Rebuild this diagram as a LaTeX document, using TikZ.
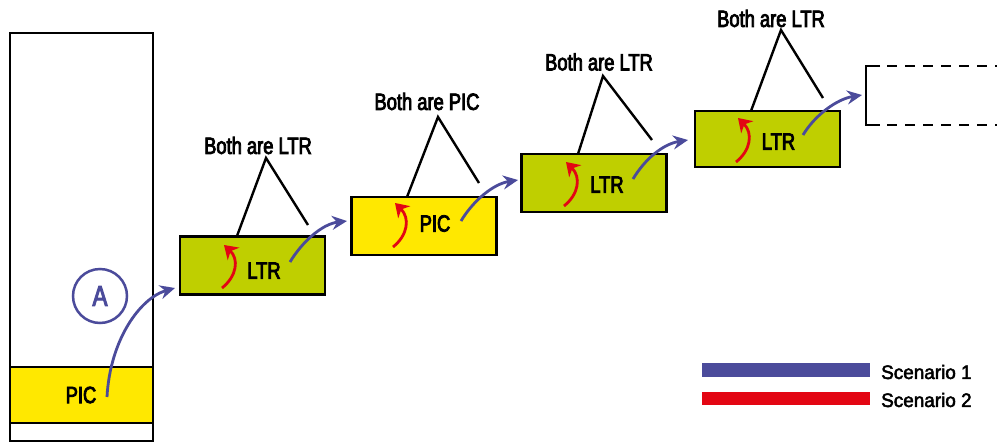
\documentclass[tikz,border=0pt]{standalone}
\usepackage{fontspec}
\setmainfont{Liberation Sans}[FakeStretch=0.78,FakeBold=3.5]
\newfontfamily\legfont{Liberation Sans}[FakeStretch=0.97,FakeBold=2.5]
\usetikzlibrary{arrows.meta}
\definecolor{ltrgreen}{RGB}{191,207,0}
\definecolor{picyellow}{RGB}{255,232,0}
\definecolor{scblue}{RGB}{75,75,155}
\definecolor{scred}{RGB}{227,6,19}
\begin{document}
\begin{tikzpicture}[x=1pt,y=-1pt,
 box/.style={draw, line width=2.6pt, minimum width=145pt, minimum height=58pt, inner sep=0pt},
 lbl/.style={font=\fontsize{23.5}{23.5}\selectfont, inner sep=0pt},
 leg/.style={font=\legfont\fontsize{19.5}{19.5}\selectfont, inner sep=0pt, anchor=west},
 tri/.style={line width=2.4pt, line join=miter},
 bluearrow/.style={draw=scblue, line width=2.8pt, -{Stealth[length=15pt,width=14pt,inset=5pt]}},
 redarrow/.style={draw=scred, line width=2.8pt, -{Stealth[length=13pt,width=17pt,inset=4pt]}},
]
\useasboundingbox (0,0) rectangle (997,445);
% left column
\node[draw, line width=2.6pt, minimum width=143pt, minimum height=408pt, inner sep=0pt, fill=white] (col) at (81.5,237) {};
\node[draw, line width=2.6pt, minimum width=143pt, minimum height=56pt, inner sep=0pt, fill=picyellow] (colpic) at (81.5,395) {};
\node[lbl] (colpictxt) at (81,395) {PIC};
\node[draw=scblue, line width=2.5pt, circle, minimum size=54pt, inner sep=0pt, text=scblue, font=\fontsize{29}{29}\selectfont] (A) at (100,296) {A};
% boxes
\node[box, fill=ltrgreen] (b1) at (252.5,265.5) {};
\node[box, fill=picyellow] (b2) at (424,226) {};
\node[box, fill=ltrgreen] (b3) at (594,183) {};
\node[box, fill=ltrgreen, minimum height=56pt] (b4) at (767.5,139) {};
\node[lbl] (t1) at (264,270.5) {LTR};
\node[lbl] (t2) at (435,223.5) {PIC};
\node[lbl] (t3) at (607,184.5) {LTR};
\node[lbl] (t4) at (778.5,141.5) {LTR};
% triangles and labels
\node[lbl] (l1) at (258,145.5) {Both are LTR};
\node[lbl] (l2) at (427,101.5) {Both are PIC};
\node[lbl] (l3) at (599,62) {Both are LTR};
\node[lbl] (l4) at (771,18.5) {Both are LTR};
\coordinate (a1) at (266,158); \coordinate (f1l) at (237,236); \coordinate (f1r) at (308,225);
\coordinate (a2) at (438,117); \coordinate (f2l) at (407,197); \coordinate (f2r) at (479,183);
\coordinate (a3) at (603,76);  \coordinate (f3l) at (578,154); \coordinate (f3r) at (652,140);
\coordinate (a4) at (781,30);  \coordinate (f4l) at (751,111); \coordinate (f4r) at (823,98);
\draw[tri] (f1l) -- (a1) -- (f1r);
\draw[tri] (f2l) -- (a2) -- (f2r);
\draw[tri] (f3l) -- (a3) -- (f3r);
\draw[tri] (f4l) -- (a4) -- (f4r);
% dashed box
\coordinate (d5) at (862,95);
\draw[line width=2.4pt] (880,66) -- (866,66) -- (866,125) -- (880,125);
\draw[line width=2.4pt, dash pattern=on 10pt off 8pt] (887,66) -- (997,66);
\draw[line width=2.4pt, dash pattern=on 10pt off 8pt] (887,125) -- (997,125);
% blue arrows
\coordinate (s0) at (107,397); \coordinate (e0) at (175,288);
\coordinate (s1) at (290,262); \coordinate (e1) at (347,221);
\coordinate (s2) at (461,221); \coordinate (e2) at (518,180);
\coordinate (s3) at (633,179); \coordinate (e3) at (688,140);
\coordinate (s4) at (803,135);
\draw[bluearrow] (s0) .. controls (110,340) and (140,298) .. (e0);
\draw[bluearrow] (s1) .. controls (302,242) and (322,224) .. (e1);
\draw[bluearrow] (s2) .. controls (473,201) and (493,184) .. (e2);
\draw[bluearrow] (s3) .. controls (645,159) and (663,144) .. (e3);
\draw[bluearrow] (s4) .. controls (815,115) and (837,99) .. (d5);
% red arrows
\draw[redarrow] (222,288) .. controls (237,276) and (239,259) .. (224,245);
\draw[redarrow] (393,247) .. controls (408,235) and (410,218) .. (395,203);
\draw[redarrow] (564,206) .. controls (579,194) and (581,177) .. (566,162);
\draw[redarrow] (736,162) .. controls (751,150) and (753,133) .. (738,118);
% legend
\fill[scblue] (702,363) rectangle (870,377);
\fill[scred] (702,392) rectangle (870,405);
\node[leg] (sc1) at (881,372) {Scenario 1};
\node[leg] (sc2) at (881,400) {Scenario 2};
\end{tikzpicture}
\end{document}
